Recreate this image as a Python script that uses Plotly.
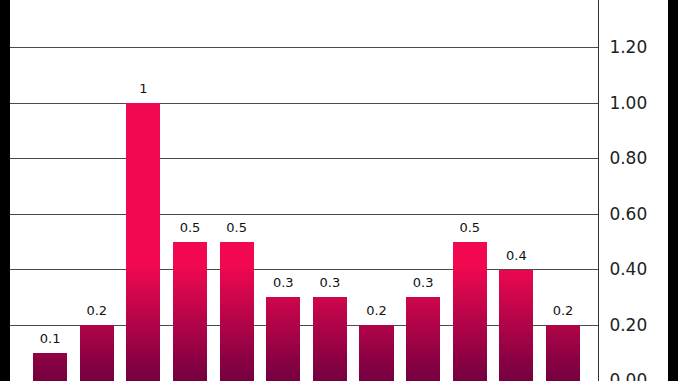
import plotly.graph_objects as go
import numpy as np

categories = ["A", "B", "C", "D", "E", "F", "G", "H", "I", "J", "K", "L"]
values = [0.1, 0.2, 1.0, 0.5, 0.5, 0.3, 0.3, 0.2, 0.3, 0.5, 0.4, 0.2]
label_texts = ["0.1", "0.2", "1", "0.5", "0.5", "0.3", "0.3", "0.2", "0.3", "0.5", "0.4", "0.2"]
y_ticks = [0.0, 0.2, 0.4, 0.6, 0.8, 1.0, 1.2]

# vertical gradient (data-space): dark at 0, bright from ~0.42 upward
grad_top = 0.42
grad_step = 0.01
dark = np.array([0x74, 0x00, 0x40])
bright = np.array([0xF2, 0x08, 0x50])

def col(t):
    t = min(max(t, 0.0), 1.0)
    c = dark + (bright - dark) * t
    return "rgb(%d,%d,%d)" % tuple(int(round(v)) for v in c)

vals = np.array(values)
fig = go.Figure()
n_steps = int(round(grad_top / grad_step))
for k in range(n_steps + 1):
    lo = k * grad_step
    if k < n_steps:
        seg = np.clip(vals - lo, 0, grad_step)
        color = col((lo + grad_step / 2) / grad_top)
    else:
        seg = np.clip(vals - lo, 0, None)
        color = col(1.0)
    fig.add_trace(go.Bar(
        x=categories, y=seg, marker=dict(color=color, line=dict(width=0)),
        showlegend=False, hoverinfo="skip",
    ))

fig.add_trace(go.Scatter(
    x=categories, y=values, mode="markers+text", text=label_texts,
    textposition="top center",
    marker=dict(size=9, color="rgba(0,0,0,0)"),
    textfont=dict(family="DejaVu Sans", size=13, color="#111111"),
    showlegend=False, hoverinfo="skip",
))

fig.update_layout(
    width=678, height=381,
    margin=dict(l=10, r=80, t=0, b=0),
    paper_bgcolor="black",
    plot_bgcolor="white",
    barmode="stack",
    bargap=0.27,
    font=dict(family="DejaVu Sans", color="#222222"),
    shapes=[dict(type="rect", xref="paper", yref="paper",
                 x0=1, x1=1 + 70 / 588, y0=0, y1=1,
                 fillcolor="white", line=dict(width=0), layer="below")],
)
fig.update_xaxes(range=[-0.86, 11.75], showticklabels=False, showgrid=False,
                 zeroline=False, showline=False, automargin=False)
fig.update_yaxes(side="right", range=[-0.0018, 1.3712],
                 tickvals=y_ticks, tickformat=".2f",
                 showgrid=True, gridcolor="#4a4a4a", gridwidth=1,
                 zeroline=False, showline=True, linecolor="#333333", linewidth=1,
                 ticks="", ticklabelstandoff=7, ticklabeloverflow="allow",
                 tickfont=dict(family="DejaVu Sans", size=17, color="#222222"),
                 automargin=False)

fig.write_html("out.html", config={"displayModeBar": False},
               post_script="document.body.style.margin='0';document.body.style.overflow='hidden';")
